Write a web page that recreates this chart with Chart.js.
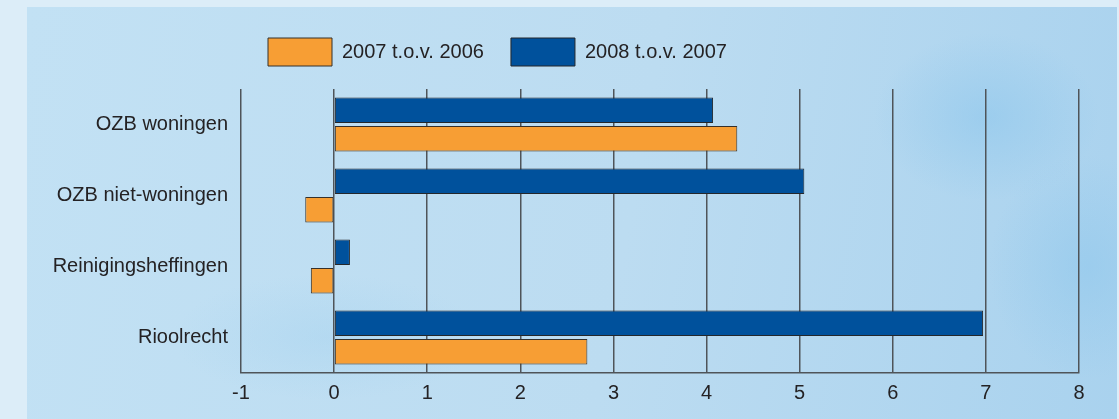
<!DOCTYPE html>
<html>
<head>
<meta charset="utf-8">
<script src="https://cdn.jsdelivr.net/npm/chart.js@4/dist/chart.umd.min.js"></script>
<style>
  html, body { margin: 0; padding: 0; }
  body { width: 1119px; height: 419px; background: #dcedf8; position: relative; overflow: hidden; }
  #panel {
    position: absolute; left: 27px; top: 7px; right: 2px; bottom: 0;
    background:
      radial-gradient(ellipse 160px 120px at 960px 110px, rgba(140,198,236,0.55), rgba(140,198,236,0) 70%),
      radial-gradient(ellipse 140px 160px at 1060px 260px, rgba(140,198,236,0.5), rgba(140,198,236,0) 70%),
      radial-gradient(ellipse 220px 90px at 300px 330px, rgba(160,208,238,0.35), rgba(160,208,238,0) 70%),
      linear-gradient(100deg, #c2e1f4 0%, #bcdcf1 55%, #a9d2ee 100%);
  }
  #chart { position: absolute; left: 0; top: 0; }
</style>
</head>
<body>
<div id="panel"></div>
<canvas id="chart" width="1119" height="419"></canvas>
<script>
// categories and series
const categories = ['OZB woningen', 'OZB niet-woningen', 'Reinigingsheffingen', 'Rioolrecht'];
const labels2007 = '2007 t.o.v. 2006';
const labels2008 = '2008 t.o.v. 2007';
const values2007 = [4.33, -0.31, -0.25, 2.72];
const values2008 = [4.07, 5.05, 0.17, 6.97];
const xTicks = [-1, 0, 1, 2, 3, 4, 5, 6, 7, 8];

const FONT = "'Liberation Sans', Arial, sans-serif";
const TEXT = '#242224';
const GRID = '#4f5459';

new Chart(document.getElementById('chart'), {
    type: 'bar',
    data: {
        labels: categories,
        datasets: [
            {
                label: labels2008,
                data: values2008,
                backgroundColor: '#00519c',
                borderColor: '#24272b',
                borderWidth: 1,
                borderSkipped: false
            },
            {
                label: labels2007,
                data: values2007,
                backgroundColor: '#f79e34',
                borderColor: '#35302b',
                borderWidth: 1,
                borderSkipped: false
            }
        ]
    },
    options: {
        indexAxis: 'y',
        responsive: false,
        animation: false,
        devicePixelRatio: 1,
        layout: { padding: { top: 11, right: 40, left: 0, bottom: 6 } },
        categoryPercentage: 0.8,
        barPercentage: 0.9,
        plugins: {
            legend: {
                position: 'top',
                align: 'start',
                fullSize: false,
                labels: {
                    boxWidth: 64,
                    boxHeight: 28,
                    padding: 27,
                    color: TEXT,
                    font: { family: FONT, size: 20 },
                    // legend lists 2007 first, while the bars put 2008 on top
                    sort: (a, b) => b.datasetIndex - a.datasetIndex
                }
            },
            tooltip: { enabled: false }
        },
        scales: {
            x: {
                type: 'linear',
                min: xTicks[0],
                max: xTicks[xTicks.length - 1],
                afterBuildTicks: scale => { scale.ticks = xTicks.map(v => ({ value: v })); },
                grid: { color: GRID, lineWidth: 1.5, drawTicks: false },
                border: { display: true, color: GRID, width: 1.5 },
                ticks: { color: TEXT, padding: 8, font: { family: FONT, size: 20 } }
            },
            // empty strip between the legend and the plot
            gap: {
                type: 'linear',
                axis: 'x',
                position: 'top',
                grid: { display: false, drawTicks: false },
                border: { display: false },
                ticks: { display: false },
                afterFit: scale => { scale.height = 13; }
            },
            y: {
                grid: { display: false, drawTicks: false },
                border: { display: false },
                afterFit: scale => { scale.width = 241; },
                ticks: { color: TEXT, padding: 13, font: { family: FONT, size: 20 } }
            }
        }
    }
});
</script>
</body>
</html>
